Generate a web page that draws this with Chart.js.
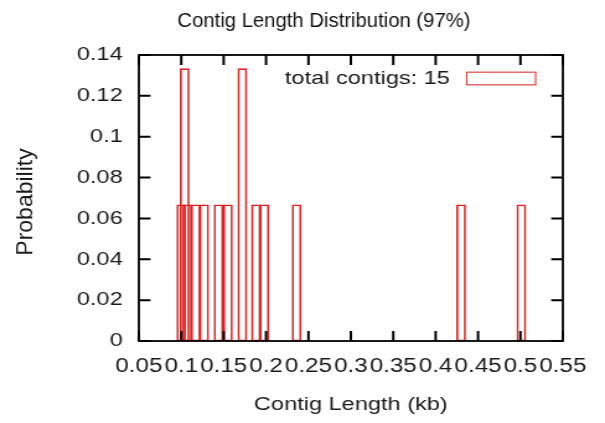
<!DOCTYPE html>
<html><head><meta charset="utf-8">
<script src="https://cdn.jsdelivr.net/npm/chart.js@4"></script>
<style>html,body{margin:0;padding:0;background:#fff}canvas{display:block}</style>
</head><body>
<canvas id="c" width="488" height="423" style="width:605px;height:423px"></canvas>
<script>
const contigLengths = [0.100, 0.104, 0.107, 0.117, 0.127, 0.144, 0.155, 0.172, 0.188, 0.198, 0.236, 0.430, 0.501];
const probabilities = [0.0667, 0.1333, 0.0667, 0.0667, 0.0667, 0.0667, 0.0667, 0.1333, 0.0667, 0.0667, 0.0667, 0.0667, 0.0667];
const xTicks = [0.05, 0.1, 0.15, 0.2, 0.25, 0.3, 0.35, 0.4, 0.45, 0.5, 0.55];
const yTicks = [0, 0.02, 0.04, 0.06, 0.08, 0.1, 0.12, 0.14];
const legendLabel = 'total contigs: 15';
const titleText = 'Contig Length Distribution (97%)';
const xTitle = 'Contig Length (kb)';
const yTitle = 'Probability';

const FONT = '"Liberation Sans", Arial, sans-serif';
const STRETCH = 605 / 488;
Chart.defaults.font.family = FONT;
Chart.defaults.font.size = 19;
Chart.defaults.color = '#1a1a1a';

const framePlugin = {
  id: 'frame',
  afterDatasetsDraw(chart) {
    const {ctx, chartArea: a, scales: {x, y}} = chart;
    ctx.save();
    ctx.strokeStyle = '#000';
    ctx.lineWidth = 2;
    ctx.beginPath();
    xTicks.forEach(v => {
      const px = x.getPixelForValue(v);
      ctx.moveTo(px, a.bottom); ctx.lineTo(px, a.bottom - 10);
      ctx.moveTo(px, a.top); ctx.lineTo(px, a.top + 10);
    });
    yTicks.forEach(v => {
      const py = y.getPixelForValue(v);
      ctx.moveTo(a.left, py); ctx.lineTo(a.left + 9.4, py);
      ctx.moveTo(a.right, py); ctx.lineTo(a.right - 9.4, py);
    });
    ctx.stroke();
    ctx.lineWidth = 1.8;
    ctx.strokeRect(a.left, a.top, a.right - a.left, a.bottom - a.top);
    ctx.restore();
  }
};

const textPlugin = {
  id: 'texts',
  afterDraw(chart) {
    const {ctx, chartArea: a} = chart;
    const ds = chart.data.datasets[0];
    ctx.save();
    // key
    const bw = 55.6, bh = 12.7;
    const bx = a.right - 22 - bw;
    const cy = a.top + 23.5;
    ctx.strokeStyle = ds.borderColor;
    ctx.lineWidth = 1;
    ctx.strokeRect(bx, cy - bh / 2, bw, bh);
    ctx.fillStyle = '#1a1a1a';
    ctx.font = '19px ' + FONT;
    ctx.textAlign = 'right';
    ctx.textBaseline = 'middle';
    ctx.fillText(ds.label, bx - 13.5, cy);
    // title
    ctx.save();
    ctx.translate(a.left + 149.3, 21);
    ctx.scale(1 / STRETCH, 1);
    ctx.font = '20.3px ' + FONT;
    ctx.textAlign = 'center';
    ctx.fillStyle = '#111';
    ctx.fillText(titleText, 0, 0);
    ctx.restore();
    // y title
    ctx.save();
    ctx.translate(20.4, (a.top + a.bottom) / 2 + 4);
    ctx.scale(1 / STRETCH, 1);
    ctx.rotate(-Math.PI / 2);
    ctx.font = '23px ' + FONT;
    ctx.textAlign = 'center';
    ctx.fillStyle = '#1a1a1a';
    ctx.fillText(yTitle, 0, 0);
    ctx.restore();
    ctx.restore();
  }
};

new Chart(document.getElementById('c'), {
  type: 'bar',
  data: {
    datasets: [{
      label: legendLabel,
      data: contigLengths.map((v, i) => ({x: v, y: probabilities[i]})),
      backgroundColor: 'rgba(0,0,0,0)',
      borderColor: '#dd2222',
      borderWidth: 1,
      borderSkipped: false,
      barThickness: 7.2
    }]
  },
  options: {
    responsive: false,
    devicePixelRatio: 1,
    animation: false,
    layout: {padding: {left: 0, right: 34, top: 55, bottom: 0}},
    plugins: {legend: {display: false}, title: {display: false}, tooltip: {enabled: false}},
    scales: {
      x: {
        type: 'linear', position: 'bottom', min: 0.05, max: 0.55, offset: false,
        grid: {display: false, drawTicks: false, tickLength: 0},
        border: {display: false},
        afterBuildTicks: s => { s.ticks = xTicks.map(v => ({value: v})); },
        afterFit: s => { s.height = 82; },
        ticks: {autoSkip: false, maxRotation: 0, minRotation: 0, padding: 14, font: {size: 19.5}, callback: v => String(v)},
        title: {display: true, text: xTitle, padding: {top: 0, bottom: 7}}
      },
      y: {
        type: 'linear', min: 0, max: 0.14,
        grid: {display: false, drawTicks: false, tickLength: 0},
        border: {display: false},
        afterBuildTicks: s => { s.ticks = yTicks.map(v => ({value: v})); },
        afterFit: s => { s.width = 112; },
        ticks: {padding: 13, callback: v => String(v)},
        title: {display: false}
      }
    }
  },
  plugins: [framePlugin, textPlugin]
});
</script>
</body></html>
